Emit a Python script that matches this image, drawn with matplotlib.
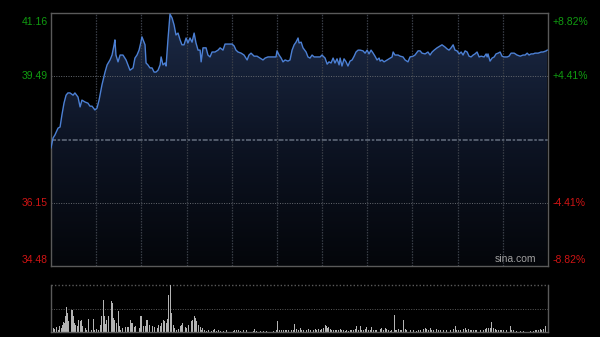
import numpy as np
import matplotlib
matplotlib.use("Agg")
import matplotlib.pyplot as plt
from matplotlib.colors import LinearSegmentedColormap
from matplotlib.patches import PathPatch
from matplotlib.path import Path

# ---- data ----
t = [0, 1.0, 1.9, 3.4, 4.4, 5.3, 6.3, 7.3, 8.2, 9.2,
     10.7, 11.6, 13.1, 14.1, 15.0, 16.5, 17.9, 18.9, 19.9, 21.3,
     22.3, 23.3, 24.7, 26.2, 27.2, 28.1, 28.6, 29.6, 30.6, 31.0,
     31.5, 32.5, 33.5, 34.9, 36.4, 37.3, 38.3, 39.8, 40.7, 41.7,
     42.7, 43.6, 44.1, 45.6, 46.1, 47.0, 48.0, 49.0, 50.0, 50.9,
     51.9, 52.9, 53.4, 54.3, 55.3, 55.8, 56.7, 57.7, 58.7, 59.7,
     60.6, 61.6, 62.6, 63.5, 64.5, 65.5, 66.4, 67.4, 68.4, 69.4,
     70.3, 71.3, 72.3, 72.8, 73.7, 75.2, 76.1, 77.1, 78.1, 79.5,
     81.0, 82.0, 83.4, 84.4, 85.8, 87.8, 88.8, 89.7, 90.7, 92.2,
     93.6, 95.1, 96.0, 97.0, 98.5, 99.9, 101.4, 102.8, 103.8, 105.2,
     107.2, 109.1, 109.6, 110.6, 111.6, 112.5, 113.5, 114.9, 115.9, 116.9,
     117.9, 118.8, 119.8, 120.3, 121.3, 122.2, 123.7, 124.6, 125.6, 126.6,
     127.6, 129.0, 130.5, 131.4, 132.9, 133.9, 134.8, 135.8, 136.8, 137.7,
     138.7, 139.7, 140.2, 141.1, 142.1, 143.1, 144.0, 145.0, 146.0, 147.0,
     147.9, 148.9, 149.9, 151.3, 152.3, 153.3, 154.2, 155.2, 156.2, 157.1,
     158.1, 159.1, 159.6, 160.5, 161.5, 163.0, 164.4, 165.4, 165.9, 166.8,
     168.3, 169.3, 170.7, 171.7, 173.1, 174.1, 175.6, 176.5, 178.0, 179.0,
     179.9, 181.4, 182.8, 183.8, 184.8, 185.8, 187.2, 188.7, 189.6, 191.1,
     192.1, 193.0, 194.0, 195.0, 195.9, 196.9, 197.9, 198.9, 199.8, 200.8,
     201.8, 202.7, 203.7, 204.7, 205.6, 206.6, 207.6, 208.6, 210.0, 211.0,
     211.5, 211.9, 212.9, 213.9, 214.9, 215.8, 216.8, 217.8, 218.7, 219.7,
     221.2, 222.1, 223.1, 224.6, 226.0, 227.5, 228.9, 229.9, 230.9, 231.8,
     232.8, 233.8, 234.7, 236.2, 237.7, 238.6, 240.1, 240.6]

price = [37.60, 37.86, 37.94, 38.12, 38.15, 38.47, 38.78, 38.99, 39.05, 39.05,
         38.99, 39.05, 38.94, 38.68, 38.86, 38.81, 38.78, 38.70, 38.70, 38.60,
         38.65, 38.86, 39.26, 39.60, 39.79, 39.87, 39.92, 40.05, 40.32, 40.45,
         40.05, 39.87, 40.05, 40.05, 39.92, 39.79, 39.65, 39.71, 39.97, 40.05,
         40.18, 40.39, 40.53, 40.32, 39.84, 39.79, 39.71, 39.71, 39.60, 39.60,
         39.65, 39.79, 40.00, 39.79, 39.84, 39.76, 40.45, 41.13, 41.03, 40.84,
         40.58, 40.63, 40.45, 40.32, 40.32, 40.50, 40.37, 40.50, 40.39, 40.63,
         40.37, 40.18, 40.18, 39.87, 40.24, 40.24, 40.05, 40.00, 40.13, 40.13,
         40.18, 40.24, 40.18, 40.34, 40.34, 40.34, 40.29, 40.18, 40.13, 40.10,
         40.05, 39.92, 40.05, 40.10, 40.02, 40.02, 39.97, 39.92, 39.97, 40.00,
         40.00, 40.00, 40.16, 40.05, 39.97, 39.87, 39.92, 39.89, 39.92, 40.18,
         40.32, 40.39, 40.50, 40.37, 40.39, 40.24, 40.13, 40.00, 39.97, 40.05,
         40.00, 40.00, 40.00, 40.05, 39.97, 39.81, 39.87, 39.84, 39.97, 39.84,
         39.95, 39.79, 39.97, 39.76, 39.95, 39.87, 39.76, 39.89, 39.92, 40.02,
         40.13, 40.18, 40.18, 40.16, 40.10, 40.18, 40.08, 40.18, 40.10, 40.02,
         39.92, 39.97, 39.89, 39.92, 39.87, 39.92, 39.97, 40.00, 40.13, 40.05,
         40.05, 40.02, 40.00, 39.92, 39.87, 40.00, 40.02, 40.05, 40.16, 40.16,
         40.10, 40.08, 40.13, 40.05, 40.13, 40.18, 40.24, 40.29, 40.32, 40.26,
         40.21, 40.18, 40.24, 40.32, 40.18, 40.16, 40.08, 40.13, 40.05, 40.16,
         40.13, 40.02, 40.00, 40.05, 40.08, 40.13, 40.00, 40.02, 40.00, 40.08,
         40.00, 40.08, 39.89, 39.97, 40.00, 40.08, 40.10, 40.13, 40.02, 40.00,
         40.00, 40.02, 40.10, 40.10, 40.05, 40.02, 40.05, 40.05, 40.10, 40.05,
         40.08, 40.08, 40.10, 40.10, 40.13, 40.13, 40.16, 40.18]

vol_t = [0.3, 1.1, 1.9, 2.8, 3.5, 4.0, 4.9, 5.5, 6.0, 6.5,
         7.1, 7.6, 8.1, 8.7, 9.2, 9.9, 10.5, 11.0, 11.6, 12.1,
         12.8, 13.4, 14.1, 14.7, 15.4, 16.0, 16.6, 17.3, 18.1, 18.9,
         19.7, 20.5, 21.3, 22.2, 22.9, 23.8, 24.6, 25.4, 25.9, 26.5,
         27.0, 27.8, 28.6, 29.2, 29.9, 30.4, 31.0, 31.9, 32.6, 33.1,
         33.8, 34.6, 35.4, 36.2, 37.0, 37.7, 38.5, 38.9, 39.6, 40.4,
         41.1, 41.7, 42.2, 42.8, 43.5, 44.1, 44.8, 45.6, 46.4, 47.0,
         47.7, 48.5, 49.3, 50.1, 50.9, 51.6, 52.2, 52.9, 53.7, 54.5,
         55.1, 55.8, 56.6, 57.2, 58.1, 58.5, 59.3, 60.1, 61.0, 61.7,
         62.6, 63.4, 63.9, 64.5, 65.1, 65.8, 66.6, 67.4, 68.1, 68.7,
         69.4, 70.0, 70.7, 71.4, 72.3, 72.8, 73.6, 74.4, 75.5, 76.5,
         77.1, 77.9, 78.7, 79.5, 80.4, 81.1, 82.0, 83.6, 85.2, 86.8,
         88.4, 89.2, 90.1, 91.0, 91.7, 93.3, 94.9, 96.5, 98.1, 98.9,
         99.8, 101.4, 103.0, 104.6, 106.2, 107.8, 109.5, 110.0, 110.7, 111.9,
         112.7, 113.5, 114.3, 115.1, 115.9, 116.7, 117.5, 118.3, 119.2, 119.9,
         120.8, 121.6, 122.4, 124.0, 124.8, 125.7, 127.3, 128.1, 128.9, 129.7,
         130.5, 131.3, 132.1, 132.9, 133.4, 134.1, 134.7, 135.4, 136.2, 137.0,
         137.8, 138.6, 139.4, 140.2, 141.0, 141.8, 142.6, 143.4, 144.2, 145.1,
         145.9, 146.7, 147.5, 148.3, 149.1, 149.9, 150.7, 151.5, 152.3, 153.1,
         153.9, 154.8, 155.6, 156.4, 157.2, 158.0, 159.6, 160.4, 161.2, 162.0,
         162.8, 163.6, 164.5, 165.3, 166.4, 167.0, 167.7, 168.5, 169.3, 170.1,
         170.9, 171.7, 172.5, 174.2, 175.8, 177.4, 178.2, 179.0, 180.6, 181.4,
         182.2, 183.1, 183.9, 184.7, 185.5, 187.1, 187.9, 188.7, 190.3, 191.9,
         193.6, 195.2, 196.0, 196.8, 197.6, 198.4, 200.0, 200.8, 201.6, 202.5,
         203.3, 204.1, 204.9, 205.7, 206.5, 208.1, 209.7, 210.5, 211.4, 212.2,
         213.0, 213.8, 214.6, 215.4, 216.2, 217.0, 217.8, 218.6, 219.4, 221.1,
         222.7, 223.5, 224.3, 225.9, 227.5, 229.1, 230.8, 232.4, 234.0, 234.8,
         235.6, 236.4, 237.2, 238.0, 238.8, 239.6, 240.5]

volume = [57, 40, 30, 50, 23, 63, 40, 73, 97, 90,
          157, 250, 190, 107, 90, 217, 217, 163, 90, 73,
          57, 117, 113, 117, 57, 30, 40, 17, 130, 57,
          23, 130, 23, 30, 17, 73, 157, 323, 157, 83,
          123, 157, 140, 313, 290, 140, 123, 90, 207, 57,
          23, 40, 63, 50, 50, 50, 123, 90, 90, 50,
          57, 73, 23, 40, 163, 157, 63, 57, 123, 123,
          73, 57, 57, 50, 50, 40, 73, 57, 90, 123,
          107, 90, 130, 373, 473, 190, 73, 40, 17, 30,
          57, 73, 90, 107, 50, 40, 73, 63, 107, 123,
          157, 140, 107, 73, 50, 23, 40, 17, 10, 17,
          23, 13, 17, 30, 13, 23, 10, 10, 17, 10,
          10, 23, 17, 23, 10, 17, 23, 17, 13, 30,
          10, 7, 7, 7, 7, 7, 17, 107, 23, 17,
          23, 17, 23, 17, 23, 23, 17, 83, 30, 17,
          40, 17, 17, 23, 30, 17, 23, 30, 17, 30,
          17, 30, 40, 73, 63, 40, 50, 30, 23, 17,
          23, 17, 23, 30, 17, 23, 13, 17, 13, 17,
          23, 23, 30, 57, 23, 57, 17, 23, 30, 50,
          23, 17, 50, 23, 17, 23, 30, 40, 23, 37,
          30, 23, 13, 23, 173, 23, 17, 30, 17, 23,
          117, 30, 17, 23, 23, 13, 23, 17, 30, 40,
          30, 23, 37, 17, 23, 30, 23, 17, 23, 17,
          17, 30, 57, 23, 17, 17, 30, 40, 23, 30,
          17, 23, 17, 23, 17, 17, 23, 30, 40, 40,
          37, 97, 40, 30, 23, 17, 23, 17, 17, 23,
          57, 17, 17, 10, 10, 10, 10, 13, 10, 17,
          17, 23, 30, 17, 30, 57, 57]

prev_close = 37.82
price_ticks = [41.16, 39.49, 36.15, 34.48]
pct_labels = ["+8.82%", "+4.41%", "-4.41%", "-8.82%"]
session_len = 241
n_sections = 11

# ---- style ----
BG = "#000000"
GREEN = "#109c10"
RED = "#d01414"
BORDER = "#5a5a5a"
GRID = "#3a3f48"
LINE = "#4c80d4"
FONT = "Liberation Sans"
FS = 7.5

fig = plt.figure(figsize=(6.0, 3.37), dpi=100, facecolor=BG)
ax = fig.add_axes([51/600, (337-266)/337, 497/600, 253/337])
axv = fig.add_axes([51/600, (337-332)/337, 497/600, 47/337])

lo, hi = price_ticks[-1], price_ticks[0]
for a in (ax, axv):
    a.set_facecolor(BG)
    a.set_xlim(0, session_len)
    a.set_xticks([])
    a.set_yticks([])
ax.set_ylim(lo, hi)

# gradient fill under price line
cmap = LinearSegmentedColormap.from_list("g", ["#04060a", "#0d1424", "#1c2a46"])
grad = np.linspace(0, 1, 256).reshape(-1, 1)
im = ax.imshow(grad, cmap=cmap, aspect="auto", origin="lower",
               extent=[0, session_len, lo, hi], zorder=1)
verts = [(t[0], lo)] + list(zip(t, price)) + [(t[-1], lo), (t[0], lo)]
codes = [Path.MOVETO] + [Path.LINETO] * (len(verts) - 2) + [Path.CLOSEPOLY]
patch = PathPatch(Path(verts, codes), facecolor="none", edgecolor="none")
ax.add_patch(patch)
im.set_clip_path(patch)

# grid
vx = np.linspace(0, session_len, n_sections + 1)[1:-1]
for x in vx:
    ax.axvline(x, color=GRID, lw=0.9, ls=(0, (1.2, 1.0)), zorder=2)
for y in (price_ticks[1], price_ticks[2]):
    ax.axhline(y, color="#666a70", lw=0.7, ls=(0, (1, 1.5)), zorder=2)
ax.axhline(prev_close, color="#5e6878", lw=1.2, ls=(0, (3, 1, 1.5, 1)), zorder=2)

ax.plot(t, price, color=LINE, lw=1.0, zorder=3)

for s in ax.spines.values():
    s.set_color(BORDER)
    s.set_linewidth(1.0)

# labels
colors = [GREEN, GREEN, RED, RED]
vas = ["top", "center", "center", "bottom"]
for val, pl, c, va in zip(price_ticks, pct_labels, colors, vas):
    dy = -3 if va == "top" else (1 if va == "bottom" else 0)
    ax.annotate(f"{val:.2f}", xy=(0, val), xycoords=("axes fraction", "data"),
                xytext=(-2.5, dy), textcoords="offset points", ha="right", va=va,
                color=c, fontsize=FS, family=FONT)
    ax.annotate(pl, xy=(1, val), xycoords=("axes fraction", "data"),
                xytext=(3.5, dy), textcoords="offset points", ha="left", va=va,
                color=c, fontsize=FS, family=FONT)

ax.text(0.976, 0.006, "sina.com", transform=ax.transAxes, ha="right", va="bottom",
        color="#a0a0a0", fontsize=FS, family=FONT, zorder=4)

# volume panel
axv.set_ylim(0, max(volume))
axv.bar(vol_t, volume, width=0.45, color="#b4b4b4", edgecolor="none", zorder=2)
axv.axhline(max(volume) / 2, color="#5a5a5a", lw=0.7, ls=(0, (1, 1.5)), zorder=1)
axv.spines["top"].set_visible(False)
axv.axhline(max(volume), color="#5a5a5a", lw=1.0, ls=(0, (1, 1.5)), zorder=1, clip_on=False)
for k in ("left", "right", "bottom"):
    axv.spines[k].set_color(BORDER)
    axv.spines[k].set_linewidth(1.0)

fig.savefig("out.png", dpi=100, facecolor=BG)
